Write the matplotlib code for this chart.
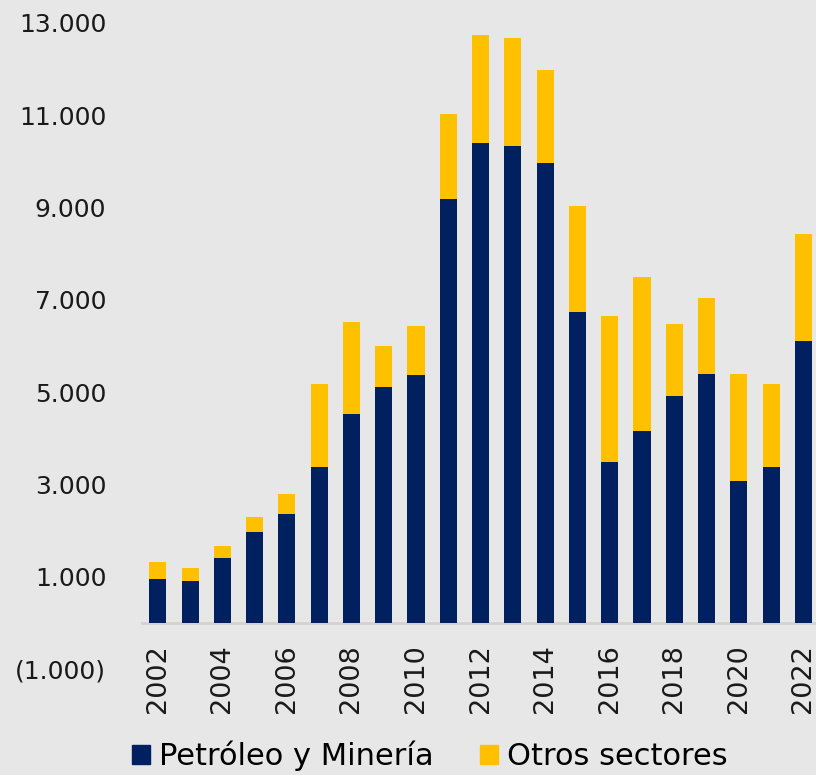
import matplotlib
matplotlib.use("Agg")
import matplotlib.pyplot as plt
from matplotlib.patches import Patch
import numpy as np

# data (millones)
years = list(range(2002, 2023))
petroleo = [950, 920, 1420, 1980, 2370, 3380, 4530, 5110, 5370, 9180, 10400,
            10340, 9960, 6740, 3480, 4170, 4910, 5400, 3080, 3390, 6110]
otros = [380, 270, 260, 310, 430, 1810, 2000, 890, 1060, 1840, 2340,
         2330, 2020, 2290, 3180, 3320, 1580, 1650, 2320, 1800, 2310]
series_names = ["Petróleo y Minería", "Otros sectores"]
yticks = [-1000, 1000, 3000, 5000, 7000, 9000, 11000, 13000]

navy = "#002060"
gold = "#FFC000"
bg = "#e7e7e7"

plt.rcParams["font.family"] = ["DejaVu Sans"]


def fmt(v):
    s = f"{abs(v):,}".replace(",", ".")
    return f"({s})" if v < 0 else s


fig = plt.figure(figsize=(8.16, 7.75), dpi=100, facecolor=bg)
ax = fig.add_axes([141 / 816, 1 - 669.3 / 775, 1 - 141 / 816, (669.3 - 23) / 775])
ax.set_facecolor(bg)

x = np.array(years)
ax.bar(x, petroleo, width=0.53, color=navy, zorder=3)
ax.bar(x, otros, width=0.53, bottom=petroleo, color=gold, zorder=3)

ax.axhline(0, color="#d2d2d2", lw=2, zorder=2)

ax.set_xlim(2001.48, 2022.39)
ax.set_ylim(-1000, 13000)

for s in ax.spines.values():
    s.set_visible(False)
ax.spines["bottom"].set_position(("data", 0))

ax.set_yticks(yticks)
ax.set_yticklabels([fmt(v) for v in yticks], fontsize=18, color="#1a1a1a")
ax.set_xticks(years[::2])
ax.set_xticklabels([str(y) for y in years[::2]], rotation=90, fontsize=19.5,
                   color="#1a1a1a")
ax.tick_params(axis="y", length=0, pad=25)
ax.tick_params(axis="x", length=0, pad=15)

handles = [Patch(color=navy), Patch(color=gold)]
fig.legend(handles, series_names, loc="center", bbox_to_anchor=(0.527, 1 - 756 / 775),
           ncol=2, frameon=False, handlelength=0.6, handleheight=0.6,
           handletextpad=0.3, columnspacing=1.5,
           prop={"size": 22})

fig.savefig("out.png", dpi=100, facecolor=bg)
